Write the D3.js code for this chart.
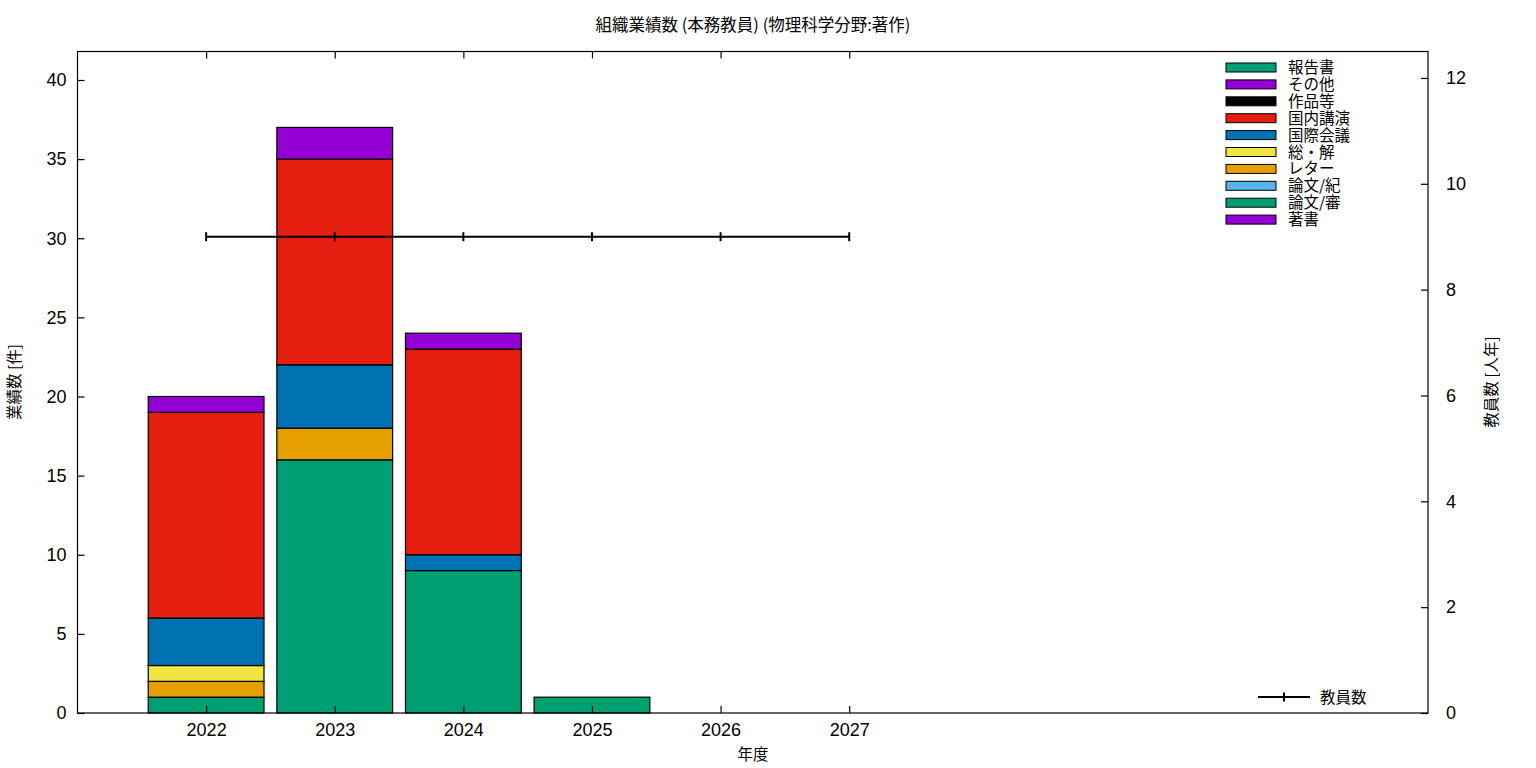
<!DOCTYPE html>
<html><head><meta charset="utf-8">
<script src="https://cdn.jsdelivr.net/npm/d3@7"></script>
<style>
body{margin:0;background:#fff;}
text{font-family:"Liberation Sans","Noto Sans CJK JP",sans-serif;fill:#000;}
.jp{font-family:"Noto Sans CJK JP","Liberation Sans",sans-serif;}
</style></head>
<body><svg id="c" width="1536" height="768"></svg>
<script>
const years = [2022, 2023, 2024, 2025, 2026, 2027];
const seriesNames = ["著書","論文/審","論文/紀","レター","総・解","国際会議","国内講演","作品等","その他","報告書"];
const chosho   = [0, 0, 0, 0, 0, 0];
const ronbunShin = [1, 16, 9, 1, 0, 0];
const ronbunKi = [0, 0, 0, 0, 0, 0];
const letter   = [1, 2, 0, 0, 0, 0];
const sokai    = [1, 0, 0, 0, 0, 0];
const kokusai  = [3, 4, 1, 0, 0, 0];
const kokunai  = [13, 13, 13, 0, 0, 0];
const sakuhin  = [0, 0, 0, 0, 0, 0];
const sonota   = [1, 2, 1, 0, 0, 0];
const hokoku   = [0, 0, 0, 0, 0, 0];
const faculty  = [9, 9, 9, 9, 9, 9];
const colors = ["#9400d3","#009e73","#56b4e9","#e69f00","#f0e442","#0072b2","#e51e10","#000000","#9400d3","#009e73"];
const leftTicks = [0,5,10,15,20,25,30,35,40];
const rightTicks = [0,2,4,6,8,10,12];

const values = [chosho, ronbunShin, ronbunKi, letter, sokai, kokusai, kokunai, sakuhin, sonota, hokoku];
const table = years.map((y,i)=>{const o={year:y}; seriesNames.forEach((k,j)=>o[k]=values[j][i]); return o;});

const svg = d3.select("#c");
const L=77.5, R=1428, T=51.5, B=713;
const x = d3.scaleLinear().domain([2021, 2031.5]).range([L, R]);
const y = d3.scaleLinear().domain([0, 41.8]).range([B, T]);
const y2 = d3.scaleLinear().domain([0, 12.5]).range([B, T]);
const bw = x(2021.9) - x(2021);

const stack = d3.stack().keys(seriesNames)(table);
stack.forEach((layer, j)=>{
  svg.append("g").selectAll("rect").data(layer.filter(d=>d[1]>d[0])).join("rect")
    .attr("x", d=>x(d.data.year)-bw/2).attr("width", bw)
    .attr("y", d=>y(d[1])).attr("height", d=>y(d[0])-y(d[1]))
    .attr("fill", colors[j]).attr("stroke","#000").attr("stroke-width",1.2);
});

// frame
svg.append("rect").attr("x",L).attr("y",T).attr("width",R-L).attr("height",B-T)
  .attr("fill","none").attr("stroke","#000").attr("stroke-width",1.2);

// axes
const ax = svg.append("g").attr("transform",`translate(0,${B})`)
  .call(d3.axisBottom(x).tickValues(years).tickFormat(d3.format("d")).tickSizeInner(-7).tickSizeOuter(0).tickPadding(10));
ax.select(".domain").remove();
ax.selectAll("text").attr("font-size",18);
const axt = svg.append("g").attr("transform",`translate(0,${T})`)
  .call(d3.axisTop(x).tickValues(years).tickFormat("").tickSizeInner(-7).tickSizeOuter(0));
axt.select(".domain").remove();
const ay = svg.append("g").attr("transform",`translate(${L},0)`)
  .call(d3.axisLeft(y).tickValues(leftTicks).tickSizeInner(-7).tickSizeOuter(0).tickPadding(11));
ay.select(".domain").remove();
ay.selectAll("text").attr("font-size",18);
const ay2 = svg.append("g").attr("transform",`translate(${R},0)`)
  .call(d3.axisRight(y2).tickValues(rightTicks).tickSizeInner(-7).tickSizeOuter(0).tickPadding(18));
ay2.select(".domain").remove();
ay2.selectAll("text").attr("font-size",18);
svg.selectAll(".tick line").attr("stroke","#000").attr("stroke-width",1.2);

// faculty line
const line = d3.line().x((d,i)=>x(years[i])).y(d=>y2(d));
svg.append("path").datum(faculty).attr("d",line).attr("fill","none").attr("stroke","#000").attr("stroke-width",2);
svg.append("g").selectAll("line").data(faculty).join("line")
  .attr("x1",(d,i)=>x(years[i])).attr("x2",(d,i)=>x(years[i]))
  .attr("y1",d=>y2(d)-4.5).attr("y2",d=>y2(d)+4.5).attr("stroke","#000").attr("stroke-width",2);

// titles
svg.append("text").attr("class","jp").attr("x",753).attr("y",31).attr("text-anchor","middle").attr("font-size",16.5).text("組織業績数 (本務教員) (物理科学分野:著作)");
svg.append("text").attr("class","jp").attr("x",753).attr("y",760).attr("text-anchor","middle").attr("font-size",15.5).text("年度");
svg.append("text").attr("class","jp").attr("transform","translate(20,382) rotate(-90)").attr("text-anchor","middle").attr("font-size",15.5).text("業績数 [件]");
svg.append("text").attr("class","jp").attr("transform","translate(1497,382) rotate(-90)").attr("text-anchor","middle").attr("font-size",15.5).text("教員数 [人年]");

// legend
const leg = svg.append("g");
const order = seriesNames.map((n,j)=>({n, c:colors[j]})).reverse();
order.forEach((d,i)=>{
  const yy = 67.5 + i*16.9;
  leg.append("rect").attr("x",1226).attr("y",yy-4.5).attr("width",50).attr("height",9)
    .attr("fill",d.c).attr("stroke","#000").attr("stroke-width",1);
  leg.append("text").attr("class","jp").attr("x",1288).attr("y",yy+5.5).attr("font-size",15.5).text(d.n);
});
leg.append("line").attr("x1",1258).attr("x2",1310).attr("y1",697).attr("y2",697).attr("stroke","#000").attr("stroke-width",2);
leg.append("line").attr("x1",1284).attr("x2",1284).attr("y1",692.5).attr("y2",701.5).attr("stroke","#000").attr("stroke-width",2);
leg.append("text").attr("class","jp").attr("x",1320).attr("y",703).attr("font-size",15.5).text("教員数");
</script></body></html>
